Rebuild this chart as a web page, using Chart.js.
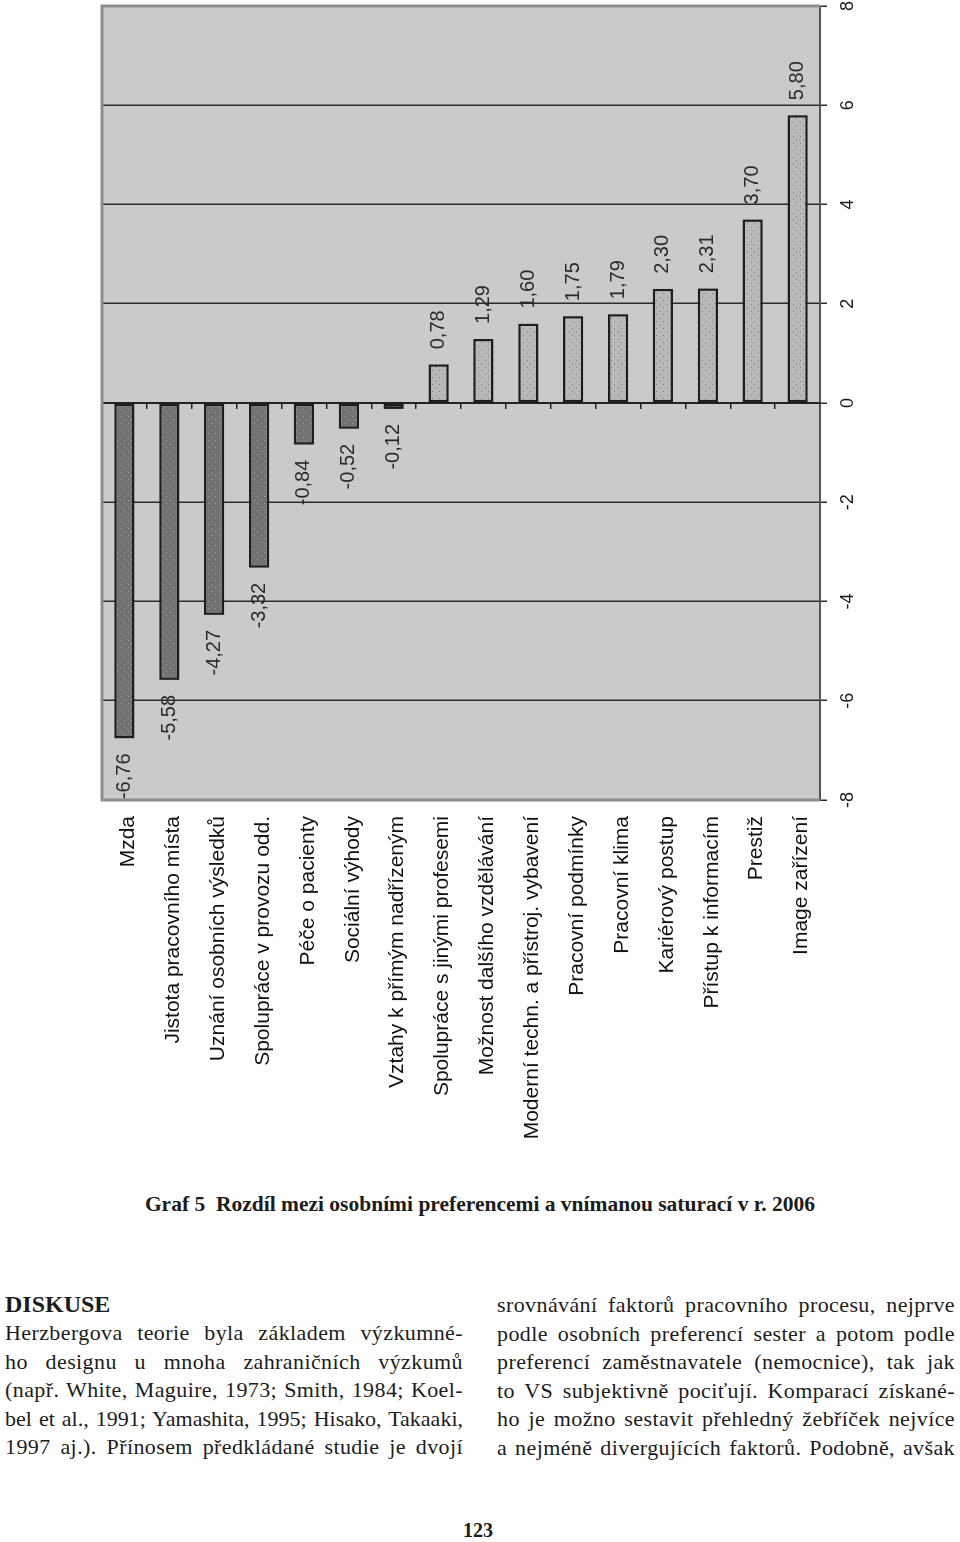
<!DOCTYPE html>
<html lang="cs">
<head>
<meta charset="utf-8">
<title>Graf 5</title>
<script src="https://cdn.jsdelivr.net/npm/chart.js"></script>
<style>
	html, body { margin:0; padding:0; background:#fff; }
	body { width:960px; height:1542px; position:relative; overflow:hidden; color:#1c1c1c; font-family:"Liberation Serif", "Times New Roman", serif; }
	/* chart is drawn as a horizontal bar chart and turned a quarter to the left */
	#chartBox { position:absolute; left:95px; top:1170px; width:1170px; height:770px; transform-origin:0 0; transform:rotate(-90deg); }
	#caption { position:absolute; left:0; top:1190px; width:960px; text-align:center; font-size:21.5px; font-weight:bold; line-height:28px; }
	#heading { position:absolute; left:5px; top:1290px; font-size:24px; font-weight:bold; line-height:28.5px; }
	.col { position:absolute; width:458px; font-size:22px; line-height:28.5px; }
	.col div { text-align:justify; text-align-last:justify; letter-spacing:0.4px; }
	.col div.tight { letter-spacing:0; }
	#colLeft { left:5px; top:1319px; }
	#colRight { left:497px; top:1291px; }
	#pageNo { position:absolute; left:0; top:1516px; width:956px; text-align:center; font-size:20px; font-weight:bold; line-height:28px; }
</style>
</head>
<body>
<div id="chartBox"><canvas id="chart" width="1170" height="770"></canvas></div>

<div id="caption">Graf 5&nbsp; Rozdíl mezi osobními preferencemi a vnímanou saturací v r. 2006</div>

<div id="heading">DISKUSE</div>
<div class="col" id="colLeft">
	<div>Herzbergova teorie byla základem výzkumné-</div>
	<div>ho designu u mnoha zahraničních výzkumů</div>
	<div>(např. White, Maguire, 1973; Smith, 1984; Koel-</div>
	<div class="tight">bel et al., 1991; Yamashita, 1995; Hisako, Takaaki,</div>
	<div>1997 aj.). Přínosem předkládané studie je dvojí</div>
</div>
<div class="col" id="colRight">
	<div>srovnávání faktorů pracovního procesu, nejprve</div>
	<div>podle osobních preferencí sester a potom podle</div>
	<div>preferencí zaměstnavatele (nemocnice), tak jak</div>
	<div>to VS subjektivně pociťují. Komparací získané-</div>
	<div>ho je možno sestavit přehledný žebříček nejvíce</div>
	<div>a nejméně divergujících faktorů. Podobně, avšak</div>
</div>
<div id="pageNo">123</div>

<script>
// Graf 5 - rozdíl mezi preferencemi a saturací (2006)
const categories = [
	'Mzda',
	'Jistota pracovního místa',
	'Uznání osobních výsledků',
	'Spolupráce v provozu odd.',
	'Péče o pacienty',
	'Sociální výhody',
	'Vztahy k přímým nadřízeným',
	'Spolupráce s jinými profesemi',
	'Možnost dalšího vzdělávání',
	'Moderní techn. a přístroj. vybavení',
	'Pracovní podmínky',
	'Pracovní klima',
	'Kariérový postup',
	'Přístup k informacím',
	'Prestiž',
	'Image zařízení'
];
const differences = [-6.76, -5.58, -4.27, -3.32, -0.84, -0.52, -0.12, 0.78, 1.29, 1.60, 1.75, 1.79, 2.30, 2.31, 3.70, 5.80];
const valueTicks = [-8, -6, -4, -2, 0, 2, 4, 6, 8];

(function(){
	function dotPattern(base, dot){
		const c = document.createElement('canvas');
		c.width = 7; c.height = 7;
		const g = c.getContext('2d');
		g.fillStyle = base; g.fillRect(0, 0, 7, 7);
		g.fillStyle = dot;
		g.fillRect(1, 1, 1, 1);
		g.fillRect(4, 5, 1, 1);
		return g.createPattern(c, 'repeat');
	}
	const darkDots = dotPattern('#727272', '#a4a4a4');
	const lightDots = dotPattern('#b8b9bb', '#7e7e7e');

	// plot background + the light frame around it
	const plotFrame = {
		id: 'plotFrame',
		beforeDraw(chart){
			const { ctx, chartArea: a } = chart;
			ctx.save();
			ctx.fillStyle = '#c9cacc';
			ctx.fillRect(a.left, a.top, a.right - a.left, a.bottom - a.top);
			ctx.restore();
		},
		beforeDatasetsDraw(chart){
			const { ctx, chartArea: a } = chart;
			ctx.save();
			ctx.strokeStyle = '#8e8e8e';
			ctx.lineWidth = 3;
			ctx.beginPath();
			ctx.moveTo(a.left, a.bottom);
			ctx.lineTo(a.left, a.top);
			ctx.lineTo(a.right, a.top);
			ctx.lineTo(a.right, a.bottom);
			ctx.stroke();
			ctx.restore();
		}
	};

	// numbers next to the bar ends, decimal comma
	const valueLabels = {
		id: 'valueLabels',
		afterDatasetsDraw(chart){
			const ctx = chart.ctx;
			const meta = chart.getDatasetMeta(0);
			ctx.save();
			ctx.font = '20px "Liberation Sans", Arial, sans-serif';
			ctx.fillStyle = '#2a2a2a';
			ctx.textBaseline = 'middle';
			meta.data.forEach((bar, i) => {
				const v = differences[i];
				const txt = v.toFixed(2).replace('.', ',');
				ctx.textAlign = v < 0 ? 'right' : 'left';
				ctx.fillText(txt, bar.x + (v < 0 ? -15 : 15), bar.y);
			});
			ctx.restore();
		}
	};

	new Chart(document.getElementById('chart'), {
		type: 'bar',
		data: {
			labels: categories,
			datasets: [{
				data: differences,
				backgroundColor: differences.map(v => v < 0 ? darkDots : lightDots),
				borderColor: '#1e1e1e',
				borderWidth: 2.5,
				borderSkipped: false,
				barPercentage: 0.9,
				categoryPercentage: 0.5
			}]
		},
		options: {
			indexAxis: 'y',
			responsive: false,
			animation: false,
			layout: { padding: { top: 7, right: 6, left: 0, bottom: 0 } },
			plugins: { legend: { display: false }, tooltip: { enabled: false } },
			scales: {
				x: {
					position: 'bottom',
					min: valueTicks[0],
					max: valueTicks[valueTicks.length - 1],
					afterBuildTicks: s => { s.ticks = valueTicks.map(v => ({ value: v })); },
					afterFit: s => { s.height = 45; s.paddingLeft = 0; s.paddingRight = 0; },
					grid: {
						color: c => (c.tick && Math.abs(c.tick.value) === 8) ? '#8e8e8e' : '#2b2b2b',
						lineWidth: 1.5,
						tickLength: 7,
						tickColor: '#2b2b2b'
					},
					border: { display: true, color: '#555', width: 2 },
					ticks: { font: { family: '"Liberation Sans", Arial, sans-serif', size: 18 }, color: '#1a1a1a', padding: 10, maxRotation: 0 }
				},
				y: {
					afterFit: s => { s.width = 370; s.paddingTop = 0; s.paddingBottom = 0; },
					grid: { display: false, drawTicks: false },
					border: { display: false },
					ticks: { font: { family: '"Liberation Sans", Arial, sans-serif', size: 21 }, color: '#111', padding: 16, labelOffset: 4, autoSkip: false }
				},
				y2: {
					type: 'category',
					axis: 'y',
					position: { x: 0 },
					offset: true,
					afterFit: s => { s.paddingTop = 0; s.paddingBottom = 0; },
					grid: { offset: true, drawOnChartArea: false, tickLength: 5, color: '#222', lineWidth: 1.5 },
					border: { color: '#222', width: 2 },
					ticks: { display: false }
				}
			}
		},
		plugins: [plotFrame, valueLabels]
	});
})();
</script>
</body>
</html>
